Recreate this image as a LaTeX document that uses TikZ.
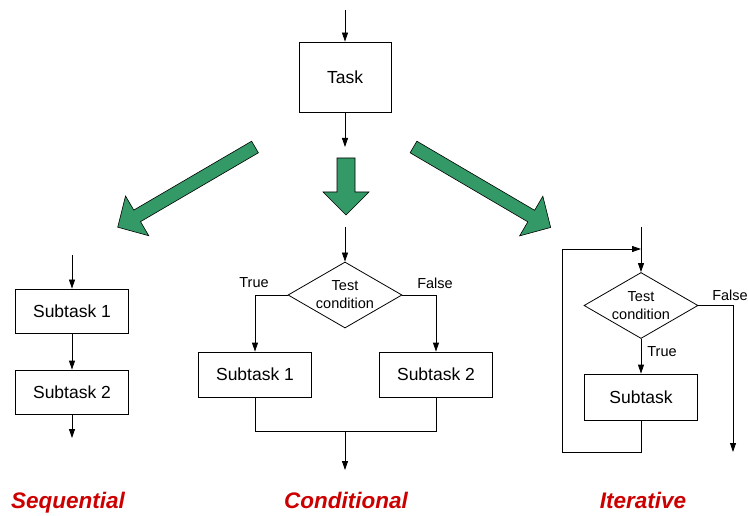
\documentclass[tikz,border=0pt]{standalone}
\usepackage{fontspec}
\setmainfont{Liberation Sans}
\usetikzlibrary{arrows.meta,shapes.geometric}
\definecolor{arrowgreen}{RGB}{51,153,102}
\definecolor{kindred}{RGB}{204,0,0}

\begin{document}
\begin{tikzpicture}[x=1pt, y=-1pt, line width=0.8pt,
  arr/.style={-{Triangle[length=9pt,width=6pt]}},
  box/.style={draw, minimum width=113pt, minimum height=44pt, inner sep=0pt, font=\fontsize{17.5}{20}\selectfont},
  test/.style={draw, diamond, aspect=1.7, minimum width=114pt, minimum height=66pt, inner sep=0pt, align=center, font=\fontsize{14.5}{18}\selectfont},
  lbl/.style={font=\fontsize{14.5}{17}\selectfont},
  kind/.style={anchor=base, font=\fontsize{22.5}{26}\selectfont\bfseries\itshape, text=kindred},
  fat/.style={draw, line width=0.6pt, fill=arrowgreen}]
\useasboundingbox (0,0) rectangle (748,516);
% task
\coordinate (in) at (345,10);
\node[box, minimum width=92pt, minimum height=70pt] (task) at (345,77) {Task};
\coordinate (taskout) at (345,147);
\draw[arr] (in) -- (task);
\draw[arr] (task) -- (taskout);
% green arrows
\draw[fat] (337,158) -- (355,158) -- (355,192) -- (369,192) -- (346,215) -- (323,192) -- (337,192) -- cycle;
\begin{scope}[shift={(255,147)}, rotate=210.3]
\draw[fat] (0,-6.7) -- (136.5,-6.7) -- (136.5,-23) -- (159,0) -- (136.5,23) -- (136.5,6.7) -- (0,6.7) -- cycle;
\end{scope}
\begin{scope}[shift={(413.5,147)}, rotate=-30.4]
\draw[fat] (0,-6.7) -- (136.5,-6.7) -- (136.5,-23) -- (159,0) -- (136.5,23) -- (136.5,6.7) -- (0,6.7) -- cycle;
\end{scope}
% sequential
\coordinate (sin) at (72,255);
\node[box] (s1) at (72,311) {Subtask 1};
\node[box] (s2) at (72,392) {Subtask 2};
\coordinate (sout) at (72,438);
\draw[arr] (sin) -- (s1);
\draw[arr] (s1) -- (s2);
\draw[arr] (s2) -- (sout);
% conditional
\coordinate (cin) at (345,227);
\node[test] (cd) at (345,295) {Test\\condition};
\node[box, minimum height=45pt] (c1) at (255,374.5) {Subtask 1};
\node[box, minimum height=45pt] (c2) at (436,374.5) {Subtask 2};
\node[lbl] (ctrue) at (254,283) {True};
\node[lbl] (cfalse) at (435,283) {False};
\coordinate (cj) at (345,431);
\coordinate (cout) at (345,470);
\draw[arr] (cin) -- (cd);
\draw[arr] (cd.west) -| (c1);
\draw[arr] (cd.east) -| (c2);
\draw (c1) |- (cj);
\draw (c2) |- (cj);
\draw[arr] (cj) -- (cout);
% iterative
\coordinate (iin) at (641,227);
\node[test] (id) at (641,305.5) {Test\\condition};
\node[box, minimum height=46pt] (ib) at (641,397) {Subtask};
\node[lbl] (itrue) at (662,352) {True};
\node[lbl] (ifalse) at (730,295) {False};
\coordinate (lb) at (562,452);
\coordinate (lt) at (562,249);
\coordinate (lm) at (641,249);
\coordinate (iout) at (733,452);
\draw[arr] (iin) -- (id);
\draw[arr] (id) -- (ib);
\draw[arr] (ib) |- (lb) -- (lt) -- (lm);
\draw[arr] (id.east) -| (iout);
% kinds
\node[kind] (seq) at (68,508) {Sequential};
\node[kind] (cond) at (346,508) {Conditional};
\node[kind] (iter) at (643,508) {Iterative};
\end{tikzpicture}
\end{document}
